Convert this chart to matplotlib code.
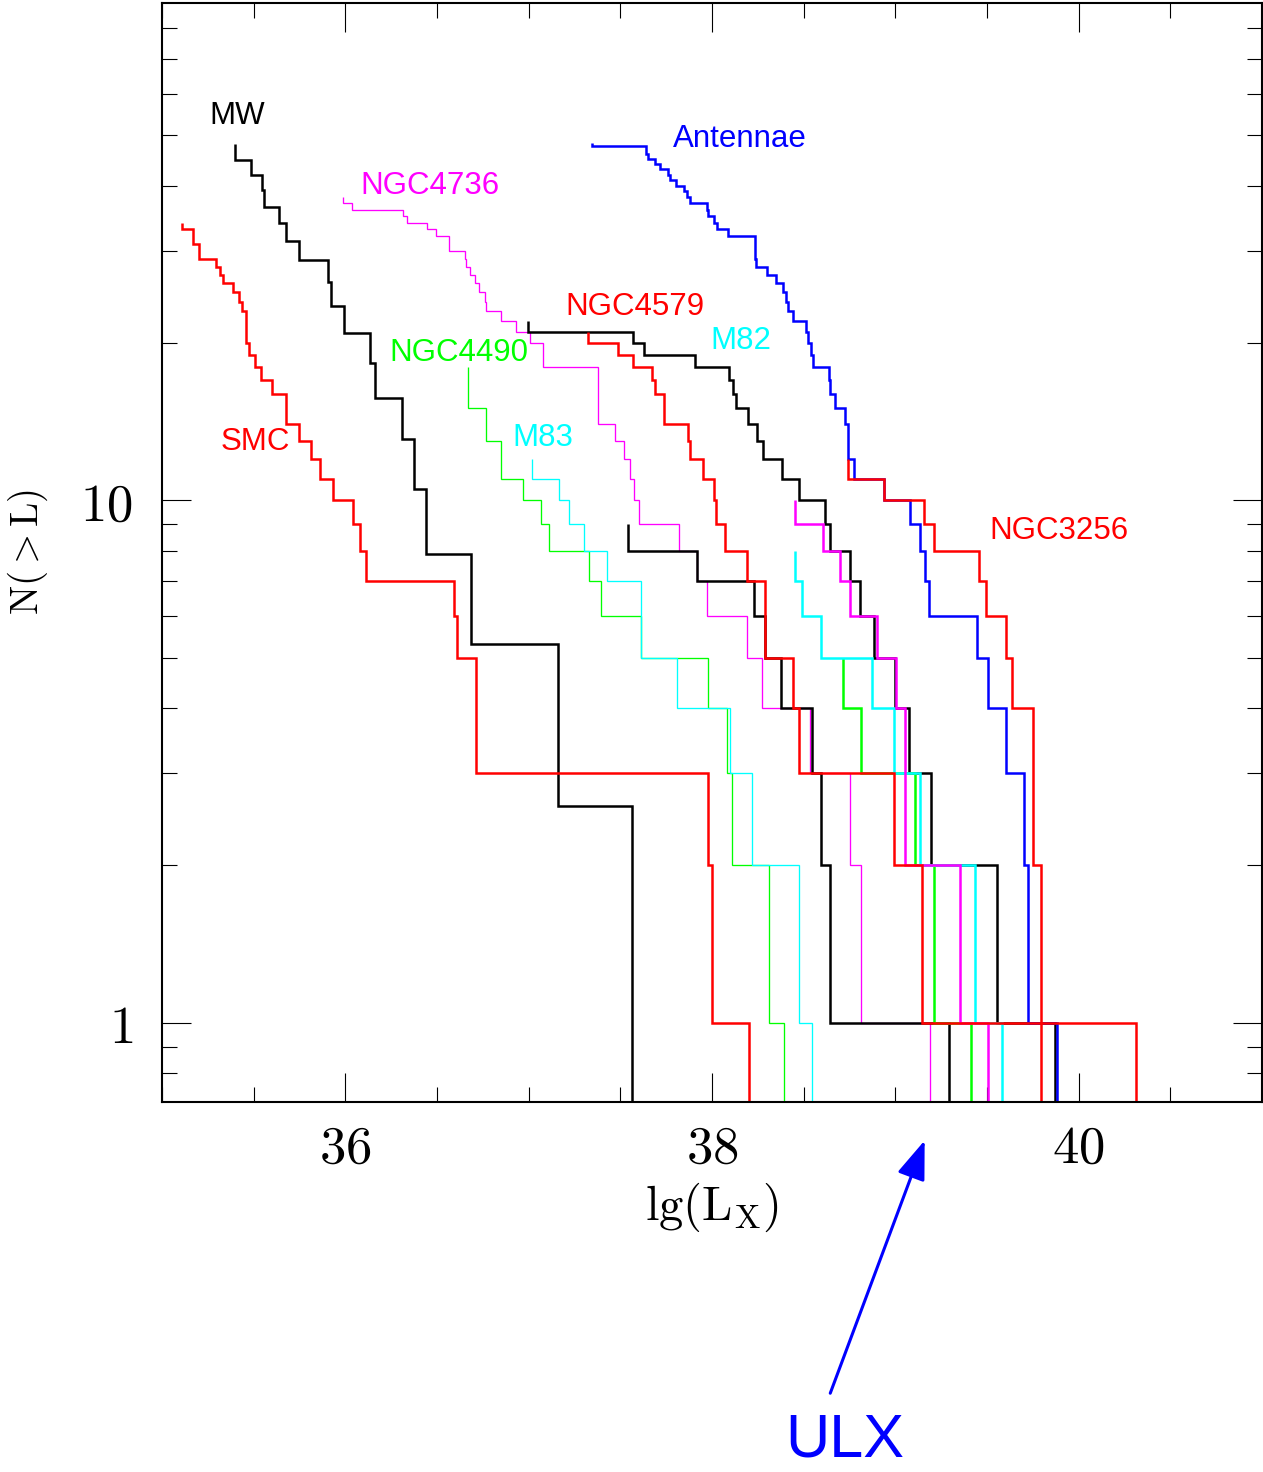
import numpy as np
import matplotlib
matplotlib.use("Agg")
import matplotlib.pyplot as plt
from matplotlib.ticker import FixedLocator, NullFormatter

plt.rcParams["mathtext.fontset"] = "cm"

# cumulative luminosity functions N(>L)
# *_LX : lg(Lx) where the curve steps down, *_N : level at the start, then the level after each step
SMC_LX = [35.108, 35.169, 35.202, 35.297, 35.317, 35.330, 35.388, 35.422, 35.436, 35.457, 35.472, 35.507, 35.539, 35.599,
          35.679, 35.745, 35.813, 35.863, 35.931, 36.040, 36.078, 36.113, 36.590, 36.610, 36.714, 37.977, 38.000, 38.204]
SMC_N = [34, 33, 31, 29, 28, 27, 26, 25, 24, 23, 20, 19, 18, 17, 16, 14, 13, 12, 11, 10, 9, 8, 7, 6, 5, 3, 2, 1, 0]

MW_LX = [35.399, 35.488, 35.543, 35.554, 35.639, 35.676, 35.749, 35.907, 35.922, 35.995, 36.137, 36.164, 36.308, 36.375,
         36.441, 36.687, 37.160, 37.561]
MW_N = [48.1, 44.9, 42.0, 39.3, 36.5, 33.9, 31.4, 28.8, 26.2, 23.5, 20.9, 18.3, 15.7, 13.1, 10.5, 7.9, 5.3, 2.6, 0]

NGC4736_LX = [35.985, 36.037, 36.314, 36.336, 36.448, 36.497, 36.568, 36.650, 36.660, 36.678, 36.709, 36.727, 36.760,
              36.769, 36.851, 36.929, 37.005, 37.078, 37.379, 37.470, 37.519, 37.552, 37.577, 37.603, 37.821, 37.916,
              37.971, 38.191, 38.272, 38.532, 38.750, 38.814, 39.191]
NGC4736_N = [38, 37, 36, 35, 34, 33, 32, 30, 29, 28, 27, 26, 25, 24, 23, 22, 21, 20, 18, 14, 13, 12, 11, 10, 9, 8, 7, 6,
             5, 4, 3, 2, 1, 0]

NGC4490_LX = [36.668, 36.769, 36.851, 36.969, 37.069, 37.111, 37.330, 37.392, 37.610, 37.980, 38.080, 38.111, 38.310,
              38.390]
NGC4490_N = [18, 15, 13, 11, 10, 9, 8, 7, 6, 5, 4, 3, 2, 1, 0]

M83_LX = [37.018, 37.167, 37.219, 37.301, 37.428, 37.610, 37.809, 38.098, 38.219, 38.472, 38.543]
M83_N = [12, 11, 10, 9, 8, 7, 5, 4, 3, 2, 1, 0]

BLACK1_LX = [36.996, 37.570, 37.628, 37.907, 38.093, 38.113, 38.131, 38.195, 38.244, 38.277, 38.381, 38.477, 38.617,
             38.645, 38.754, 38.809, 38.881, 39.000, 39.073, 39.195, 39.556, 39.869]
BLACK1_N = [22, 21, 20, 19, 18, 17, 16, 15, 14, 13, 12, 11, 10, 9, 8, 7, 6, 5, 4, 3, 2, 1, 0]

BLACK2_LX = [37.543, 37.916, 38.231, 38.290, 38.377, 38.545, 38.596, 38.641, 39.295]
BLACK2_N = [9, 8, 7, 6, 5, 4, 3, 2, 1, 0]

NGC4579_LX = [37.325, 37.488, 37.570, 37.670, 37.689, 37.739, 37.871, 37.880, 37.952, 38.013, 38.020, 38.071, 38.190,
              38.290, 38.440, 38.472, 38.995, 39.146, 39.792]
NGC4579_N = [21, 20, 19, 18, 17, 16, 14, 13, 12, 11, 10, 9, 8, 7, 5, 4, 3, 2, 1, 0]

NGC3256_LX = [38.742, 38.936, 39.155, 39.213, 39.455, 39.496, 39.605, 39.634, 39.752, 39.792, 40.311]
NGC3256_N = [12, 11, 10, 9, 8, 7, 6, 5, 4, 2, 1, 0]

ANTENNAE_LX = [37.346, 37.638, 37.649, 37.689, 37.716, 37.761, 37.770, 37.802, 37.849, 37.862, 37.880, 37.971, 37.980,
               38.011, 38.026, 38.089, 38.235, 38.240, 38.299, 38.350, 38.386, 38.403, 38.414, 38.441, 38.514, 38.526,
               38.539, 38.550, 38.636, 38.645, 38.672, 38.723, 38.741, 38.772, 38.940, 39.082, 39.133, 39.160, 39.182,
               39.443, 39.503, 39.603, 39.701, 39.725, 39.880]
ANTENNAE_N = [48.2, 47.7, 46, 45, 44, 43, 42, 41, 40, 39, 38, 37, 36, 35, 34, 33, 32, 29, 28, 27, 26, 25, 24, 23, 22,
              21, 20, 19, 18, 17, 16, 15, 14, 12, 11, 10, 9, 8, 7, 6, 5, 4, 3, 2, 1, 0]

MAGENTA2_LX = [38.450, 38.603, 38.699, 38.750, 38.900, 39.004, 39.055, 39.351, 39.504]
MAGENTA2_N = [10, 9, 8, 7, 6, 5, 4, 2, 1, 0]

M82_LX = [38.450, 38.490, 38.594, 38.873, 38.995, 39.137, 39.432, 39.583]
M82_N = [8, 7, 6, 5, 4, 3, 2, 1, 0]

GREEN2_LX = [38.712, 38.813, 39.109, 39.209, 39.414]
GREEN2_N = [5, 4, 3, 2, 1, 0]

# labels: text, lg(Lx) of left edge, N at baseline, colour
LABELS = [("MW", 35.257, 52.4, "black"), ("NGC4736", 36.082, 38.6, "#ff00ff"), ("Antennae", 37.787, 47.5, "blue"),
          ("NGC4579", 37.202, 22.6, "red"), ("M82", 37.989, 19.5, "cyan"), ("NGC4490", 36.240, 18.5, "#00ff00"),
          ("M83", 36.913, 12.7, "cyan"), ("SMC", 35.322, 12.5, "red"), ("NGC3256", 39.514, 8.42, "red")]

THIN, THICK = 0.95, 1.8


def draw_cum(ax, lx, n, color, lw):
    x = np.r_[lx[0], lx]
    ax.step(x, n, where="post", color=color, lw=lw, solid_joinstyle="miter", solid_capstyle="butt")


fig = plt.figure(figsize=(12.63, 14.72), dpi=100)
ax = fig.add_axes([162 / 1263, 1 - 1102 / 1472, 1100 / 1263, 1099 / 1472])
ax.set_yscale("log")

draw_cum(ax, NGC4736_LX, NGC4736_N, "#ff00ff", THIN)
draw_cum(ax, NGC4490_LX, NGC4490_N, "#00ff00", THIN)
draw_cum(ax, M83_LX, M83_N, "cyan", THIN)
draw_cum(ax, MW_LX, MW_N, "black", THICK)
draw_cum(ax, BLACK2_LX, BLACK2_N, "black", THICK)
draw_cum(ax, BLACK1_LX, BLACK1_N, "black", THICK)
draw_cum(ax, ANTENNAE_LX, ANTENNAE_N, "blue", THICK)
draw_cum(ax, GREEN2_LX, GREEN2_N, "#00ff00", THICK)
draw_cum(ax, M82_LX, M82_N, "cyan", THICK)
draw_cum(ax, MAGENTA2_LX, MAGENTA2_N, "#ff00ff", THICK)
draw_cum(ax, SMC_LX, SMC_N, "red", THICK)
draw_cum(ax, NGC4579_LX, NGC4579_N, "red", THICK)
draw_cum(ax, NGC3256_LX, NGC3256_N, "red", THICK)

for text, x, y, c in LABELS:
    ax.text(x, y, text, color=c, fontsize=22.5, family="Liberation Sans", ha="left", va="baseline")

ax.set_xlim(35, 41)
ax.set_ylim(0.705, 89.5)

ax.xaxis.set_major_locator(FixedLocator([36, 38, 40]))
ax.xaxis.set_minor_locator(FixedLocator(np.arange(35, 41.01, 0.5)))
ax.set_xticklabels([r"$\mathrm{36}$", r"$\mathrm{38}$", r"$\mathrm{40}$"])
ax.yaxis.set_major_locator(FixedLocator([1, 10]))
ax.yaxis.set_minor_locator(FixedLocator([0.8, 0.9, 2, 3, 4, 5, 6, 7, 8, 9, 20, 30, 40, 50, 60, 70, 80]))
ax.yaxis.set_minor_formatter(NullFormatter())
ax.set_yticklabels([r"$\mathrm{1}$", r"$\mathrm{10}$"])
ax.tick_params(which="both", direction="in", top=True, right=True, width=0.8, labelsize=38)
ax.tick_params(which="major", length=21)
ax.tick_params(which="minor", length=11)
ax.tick_params(axis="x", pad=14)
ax.tick_params(axis="y", pad=21)
for s in ax.spines.values():
    s.set_linewidth(1.5)

ax.set_xlabel(r"$\mathrm{lg(L_X)}$", fontsize=35)
ax.xaxis.set_label_coords(0.5, -0.072)
ax.xaxis.label.set_va("top")
ax.set_ylabel(r"$\mathrm{N(>L)}$", fontsize=28)
ax.yaxis.set_label_coords(-0.102, 0.5)

ax.annotate("", xy=(39.16, -0.035), xycoords=("data", "axes fraction"),
            xytext=(38.645, -0.265), textcoords=("data", "axes fraction"),
            arrowprops=dict(arrowstyle="-|>,head_length=0.6,head_width=0.22", mutation_scale=40,
                            color="blue", lw=2.2, shrinkA=0, shrinkB=0),
            annotation_clip=False)
fig.text(845 / 1263, 1 - 1441 / 1472, "ULX", color="blue", fontsize=44, family="Liberation Sans",
         ha="center", va="center")

fig.savefig("out.png", dpi=100)
